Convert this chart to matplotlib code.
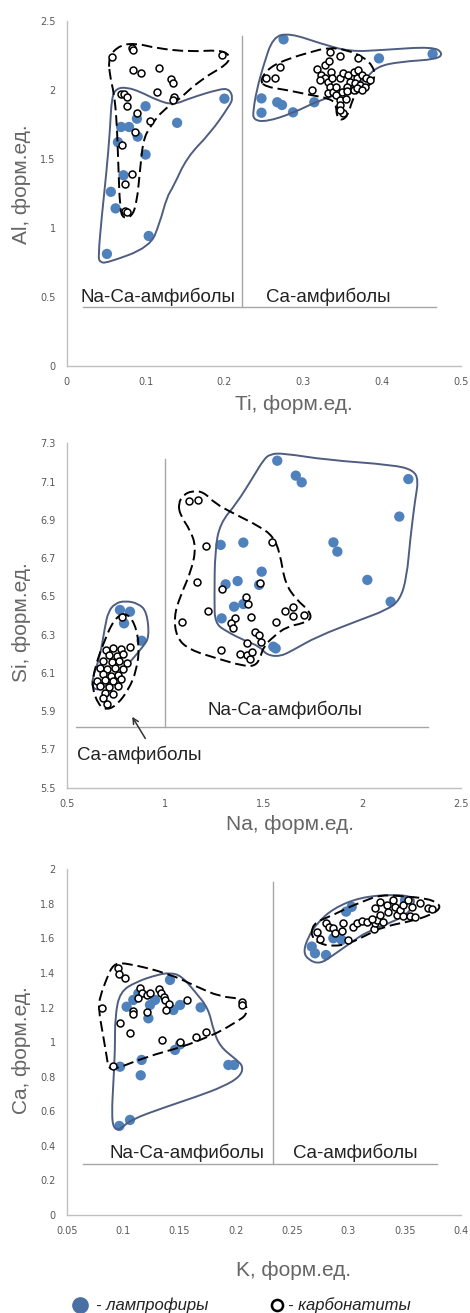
import matplotlib
matplotlib.use("Agg")
import matplotlib.pyplot as plt
from matplotlib.path import Path
from matplotlib.patches import PathPatch
from matplotlib.lines import Line2D

# ---------------- Panel 1: Ti vs Al ----------------
p1_lamp_ti = [0.100, 0.069, 0.079, 0.089, 0.090, 0.065, 0.100, 0.140, 0.072, 0.056, 0.062, 0.104, 0.051, 0.200,
              0.275, 0.396, 0.464, 0.247, 0.247, 0.267, 0.273, 0.287, 0.314, 0.357]
p1_lamp_al = [1.88, 1.73, 1.73, 1.79, 1.66, 1.62, 1.53, 1.76, 1.38, 1.26, 1.14, 0.94, 0.81, 1.935,
              2.365, 2.227, 2.259, 1.937, 1.833, 1.909, 1.889, 1.836, 1.909, 1.998]
p1_carb_ti = [0.058, 0.083, 0.084, 0.084, 0.094, 0.117, 0.132, 0.135, 0.115, 0.136, 0.135, 0.197,
              0.069, 0.073, 0.076, 0.076, 0.089, 0.105, 0.087, 0.070, 0.083, 0.074, 0.074, 0.077,
              0.318, 0.328, 0.332, 0.334, 0.347, 0.370, 0.335, 0.323, 0.328, 0.321, 0.331, 0.337,
              0.334, 0.331, 0.338, 0.342, 0.347, 0.351, 0.357, 0.364, 0.370, 0.368, 0.374, 0.380,
              0.359, 0.366, 0.372, 0.378, 0.385, 0.355, 0.349, 0.342, 0.347, 0.354, 0.356, 0.364,
              0.368, 0.374, 0.311, 0.347, 0.351, 0.346, 0.271, 0.253, 0.264]
p1_carb_al = [2.235, 2.30, 2.285, 2.14, 2.12, 2.16, 2.08, 2.05, 1.98, 1.95, 1.925, 2.25,
              1.97, 1.97, 1.95, 1.88, 1.83, 1.77, 1.69, 1.60, 1.39, 1.32, 1.12, 1.115,
              2.150, 2.179, 2.208, 2.276, 2.247, 2.228, 2.131, 2.107, 2.083, 2.071, 2.054, 2.083,
              2.022, 1.974, 1.986, 2.022, 2.083, 2.119, 2.107, 2.131, 2.143, 2.083, 2.107, 2.083,
              2.059, 2.047, 2.035, 2.022, 2.071, 2.022, 1.986, 1.962, 1.926, 1.933, 1.991, 1.998,
              2.010, 1.998, 1.998, 1.890, 1.829, 1.853, 2.163, 2.083, 2.083]

p1_lamp_left_ti = [0.040, 0.0444, 0.0507, 0.0549, 0.0571, 0.0634, 0.076, 0.093, 0.114, 0.135, 0.156, 0.194,
                   0.206, 0.211, 0.206, 0.182, 0.1527, 0.135, 0.127, 0.118, 0.1056, 0.051, 0.042]
p1_lamp_left_al = [0.79, 1.08, 1.418, 1.708, 1.949, 2.010, 2.017, 1.986, 1.925, 1.889, 1.938, 2.005,
                   2.005, 1.94, 1.88, 1.685, 1.512, 1.295, 1.222, 1.034, 0.860, 0.744, 0.75]
p1_carb_left_ti = [0.0528, 0.0676, 0.0888, 0.114, 0.156, 0.194, 0.207, 0.2045, 0.169, 0.1395, 0.122, 0.1056,
                   0.097, 0.093, 0.0888, 0.0824, 0.0718, 0.0676, 0.0654, 0.0634, 0.060, 0.0549]
p1_carb_left_al = [2.239, 2.324, 2.336, 2.300, 2.275, 2.288, 2.252, 2.186, 2.071, 1.913, 1.853, 1.732,
                   1.635, 1.418, 1.177, 1.080, 1.068, 1.128, 1.467, 1.780, 1.974, 2.094]
p1_lamp_right_ti = [0.2616, 0.2832, 0.3212, 0.3593, 0.4011, 0.4645, 0.4772, 0.4696, 0.4226, 0.393, 0.378,
                    0.355, 0.321, 0.287, 0.2536, 0.2366, 0.2366, 0.241, 0.249]
p1_lamp_right_al = [2.384, 2.409, 2.336, 2.275, 2.288, 2.312, 2.264, 2.220, 2.203, 2.167, 2.07,
                    1.986, 1.925, 1.831, 1.768, 1.780, 1.853, 1.998, 2.167]
p1_carb_right_ti = [0.245, 0.258, 0.283, 0.3085, 0.332, 0.355, 0.376, 0.389, 0.391, 0.3825, 0.368, 0.3614,
                    0.357, 0.3487, 0.3424, 0.3415, 0.332, 0.3085, 0.279, 0.2515]
p1_carb_right_al = [2.07, 2.167, 2.228, 2.271, 2.307, 2.288, 2.239, 2.167, 2.083, 2.022, 1.986, 1.913,
                    1.817, 1.775, 1.804, 1.901, 1.938, 1.962, 1.998, 2.022]

# ---------------- Panel 2: Na vs Si ----------------
p2_lamp_na = [1.568, 1.662, 1.692, 2.233, 2.187, 1.853, 1.873, 2.025, 2.143, 1.281, 1.396, 1.489, 1.367,
              1.306, 1.476, 1.349, 1.396, 1.286, 1.548, 1.560,
              0.770, 0.821, 0.791, 0.880]
p2_lamp_si = [7.209, 7.131, 7.096, 7.113, 6.917, 6.782, 6.734, 6.586, 6.472, 6.769, 6.781, 6.629, 6.580,
              6.563, 6.560, 6.446, 6.460, 6.385, 6.237, 6.228,
              6.429, 6.420, 6.359, 6.268]
p2_carb_na = [1.122, 1.168, 1.205, 1.540, 1.159, 1.481, 1.288, 1.410, 1.422, 1.218, 1.354, 1.433, 1.333,
              1.342, 1.083, 1.607, 1.650, 1.650, 1.706, 1.560, 1.455, 1.477, 1.486, 1.416, 1.281, 1.379,
              1.416, 1.442, 1.430,
              0.779, 0.699, 0.733, 0.776, 0.821, 0.716, 0.754, 0.787, 0.686, 0.728, 0.767, 0.808,
              0.669, 0.706, 0.745, 0.787, 0.686, 0.725, 0.762, 0.652, 0.694, 0.737, 0.774, 0.669,
              0.716, 0.762, 0.694, 0.733, 0.686, 0.706]
p2_carb_si = [7.000, 7.004, 6.763, 6.782, 6.577, 6.572, 6.537, 6.495, 6.460, 6.425, 6.385, 6.391, 6.359,
              6.333, 6.368, 6.424, 6.446, 6.399, 6.403, 6.364, 6.316, 6.298, 6.263, 6.258, 6.220, 6.199,
              6.194, 6.208, 6.171,
              6.390, 6.222, 6.232, 6.225, 6.236, 6.196, 6.190, 6.198, 6.162, 6.155, 6.163, 6.150,
              6.128, 6.120, 6.126, 6.118, 6.092, 6.085, 6.090, 6.060, 6.065, 6.058, 6.066, 6.030,
              6.025, 6.032, 5.995, 5.990, 5.967, 5.937]

p2_lamp_up_na = [1.498, 1.531, 1.599, 1.819, 2.157, 2.258, 2.284, 2.267, 2.242, 2.225, 2.191, 2.123, 1.988,
                 1.768, 1.650, 1.582, 1.514, 1.481, 1.396, 1.312, 1.252, 1.249, 1.252, 1.278, 1.362, 1.447]
p2_lamp_up_si = [7.213, 7.244, 7.248, 7.213, 7.187, 7.160, 7.108, 7.004, 6.795, 6.603, 6.481, 6.429, 6.377,
                 6.289, 6.220, 6.185, 6.194, 6.237, 6.272, 6.316, 6.359, 6.481, 6.742, 6.882, 6.986, 7.126]
p2_carb_up_na = [1.066, 1.092, 1.134, 1.193, 1.252, 1.345, 1.481, 1.548, 1.582, 1.607, 1.667, 1.726, 1.743,
                 1.700, 1.616, 1.548, 1.498, 1.481, 1.455, 1.396, 1.261, 1.125, 1.058, 1.044, 1.075, 1.134,
                 1.156, 1.126, 1.075]
p2_carb_up_si = [6.986, 7.030, 7.051, 7.047, 6.986, 6.934, 6.864, 6.812, 6.725, 6.568, 6.481, 6.429, 6.385,
                 6.359, 6.342, 6.289, 6.237, 6.176, 6.136, 6.136, 6.176, 6.220, 6.281, 6.394, 6.499, 6.638,
                 6.760, 6.847, 6.925]
p2_lamp_low_na = [0.711, 0.745, 0.796, 0.864, 0.906, 0.919, 0.889, 0.830, 0.737, 0.669, 0.632, 0.627, 0.669, 0.694]
p2_lamp_low_si = [6.420, 6.463, 6.477, 6.463, 6.420, 6.289, 6.240, 6.167, 6.063, 6.010, 6.019, 6.063, 6.185, 6.341]
p2_carb_low_na = [0.796, 0.847, 0.869, 0.855, 0.813, 0.754, 0.703, 0.661, 0.627, 0.644, 0.686, 0.737]
p2_carb_low_si = [6.420, 6.359, 6.237, 6.115, 6.010, 5.932, 5.906, 5.932, 6.028, 6.132, 6.254, 6.376]

# ---------------- Panel 3: K vs Ca ----------------
p3_lamp_k = [0.1417, 0.1032, 0.1091, 0.1136, 0.1239, 0.1284, 0.1225, 0.1447, 0.1506, 0.1689, 0.1461, 0.1506,
             0.0973, 0.1165, 0.1157, 0.1935, 0.1985, 0.1062, 0.0967,
             0.298, 0.303, 0.2675, 0.2704, 0.2802, 0.2867, 0.2941, 0.3503]
p3_lamp_ca = [1.360, 1.205, 1.244, 1.282, 1.215, 1.244, 1.138, 1.186, 1.215, 1.201, 0.955, 0.987,
              0.858, 0.897, 0.808, 0.868, 0.868, 0.550, 0.515,
              1.755, 1.783, 1.553, 1.514, 1.504, 1.601, 1.591, 1.822]
p3_carb_k = [0.0958, 0.0967, 0.1017, 0.081, 0.1151, 0.1165, 0.121, 0.124, 0.1136, 0.132, 0.1337, 0.136,
             0.1372, 0.141, 0.138, 0.1565, 0.1091, 0.1091, 0.121, 0.0973, 0.1062, 0.1343, 0.1506, 0.1648,
             0.1737, 0.2053, 0.2056, 0.0914,
             0.272, 0.275, 0.2802, 0.2825, 0.2867, 0.2882, 0.2956, 0.2941, 0.300, 0.3045, 0.308, 0.3119,
             0.3163, 0.3228, 0.3237, 0.3252, 0.3281, 0.3237, 0.3281, 0.334, 0.3355, 0.3394, 0.3414,
             0.3429, 0.3459, 0.3488, 0.3533, 0.3562, 0.3488, 0.3547, 0.3592, 0.3636, 0.371, 0.374,
             0.331, 0.3208]
p3_carb_ca = [1.427, 1.394, 1.369, 1.196, 1.311, 1.286, 1.273, 1.282, 1.254, 1.306, 1.286, 1.263,
              1.244, 1.219, 1.186, 1.244, 1.182, 1.163, 1.176, 1.113, 1.051, 1.013, 1.003, 1.032,
              1.059, 1.234, 1.213, 0.862,
              1.639, 1.595, 1.691, 1.665, 1.659, 1.630, 1.691, 1.645, 1.591, 1.664, 1.691, 1.703,
              1.697, 1.653, 1.688, 1.707, 1.736, 1.774, 1.813, 1.793, 1.755, 1.822, 1.784,
              1.736, 1.765, 1.793, 1.822, 1.784, 1.730, 1.730, 1.726, 1.807, 1.774, 1.768,
              1.697, 1.712]

p3_lamp_left_k = [0.0973, 0.1121, 0.1299, 0.1417, 0.152, 0.1639, 0.1757, 0.1802, 0.1861, 0.2009, 0.2068,
                  0.2038, 0.189, 0.1654, 0.1387, 0.1062, 0.0973, 0.0914, 0.09, 0.0914, 0.0929, 0.0929]
p3_lamp_left_ca = [1.292, 1.350, 1.389, 1.402, 1.383, 1.292, 1.196, 1.070, 0.974, 0.897, 0.858,
                   0.800, 0.743, 0.685, 0.627, 0.550, 0.492, 0.502, 0.588, 0.762, 0.955, 1.148]
p3_carb_left_k = [0.0914, 0.1017, 0.1402, 0.1654, 0.186, 0.2038, 0.2097, 0.2097, 0.2009, 0.186, 0.1742,
                  0.1535, 0.121, 0.0914, 0.087, 0.0855, 0.0825, 0.0781, 0.0796, 0.0855]
p3_carb_left_ca = [1.452, 1.460, 1.398, 1.321, 1.263, 1.254, 1.215, 1.157, 1.119, 1.061, 1.028,
                   0.974, 0.916, 0.839, 0.854, 0.916, 1.032, 1.196, 1.263, 1.369]
p3_lamp_right_k = [0.260, 0.2645, 0.272, 0.2867, 0.3104, 0.3399, 0.3562, 0.3592, 0.3533, 0.3399, 0.3163,
                   0.3015, 0.2867, 0.2749, 0.2645]
p3_lamp_right_ca = [1.524, 1.610, 1.687, 1.774, 1.838, 1.855, 1.842, 1.813, 1.745, 1.697, 1.639,
                    1.572, 1.504, 1.452, 1.475]
p3_carb_right_k = [0.2675, 0.272, 0.2867, 0.3015, 0.3163, 0.3281, 0.3459, 0.3696, 0.3799, 0.3814, 0.3755,
                   0.3607, 0.331, 0.3163, 0.3015, 0.2867, 0.2734, 0.2675]
p3_carb_right_ca = [1.659, 1.697, 1.736, 1.784, 1.822, 1.851, 1.846, 1.832, 1.803, 1.774, 1.745,
                    1.707, 1.668, 1.620, 1.572, 1.553, 1.572, 1.610]

# Axis ticks
p1_xticks = [0, 0.1, 0.2, 0.3, 0.4, 0.5]
p1_yticks = [0, 0.5, 1, 1.5, 2, 2.5]
p2_xticks = [0.5, 1, 1.5, 2, 2.5]
p2_yticks = [5.5, 5.7, 5.9, 6.1, 6.3, 6.5, 6.7, 6.9, 7.1, 7.3]
p3_xticks = [0.05, 0.1, 0.15, 0.2, 0.25, 0.3, 0.35, 0.4]
p3_yticks = [0, 0.2, 0.4, 0.6, 0.8, 1, 1.2, 1.4, 1.6, 1.8, 2]

BLUE = "#4f81bd"
OUTLINE = "#4e5d80"
GRAY_LINE = "#a6a6a6"
LABEL_GRAY = "#666666"
TICK_GRAY = "#595959"
FONT = ["Liberation Sans", "DejaVu Sans"]
REGION_FS = 13.5


def smooth_closed(xs, ys):
    pts = list(zip(xs, ys))
    n = len(pts)
    mids = [((pts[i][0] + pts[(i + 1) % n][0]) / 2, (pts[i][1] + pts[(i + 1) % n][1]) / 2) for i in range(n)]
    verts = [mids[-1]]
    codes = [Path.MOVETO]
    for i in range(n):
        verts += [pts[i], mids[i]]
        codes += [Path.CURVE3, Path.CURVE3]
    return Path(verts, codes)


def outline(ax, xs, ys, dashed=False):
    path = smooth_closed(xs, ys)
    if dashed:
        patch = PathPatch(path, fill=False, edgecolor="black", lw=1.4, linestyle=(0, (5.5, 2.5)), zorder=4)
    else:
        patch = PathPatch(path, fill=False, edgecolor=OUTLINE, lw=1.4, zorder=4)
    ax.add_patch(patch)


def style(ax, xlim, ylim, xticks, yticks):
    ax.set_xlim(*xlim)
    ax.set_ylim(*ylim)
    ax.set_xticks(xticks)
    ax.set_yticks(yticks)
    ax.set_xticklabels([f"{t:g}" for t in xticks])
    ax.set_yticklabels([f"{t:g}" for t in yticks])
    for s in ["top", "right"]:
        ax.spines[s].set_visible(False)
    for s in ["left", "bottom"]:
        ax.spines[s].set_color("#bfbfbf")
        ax.spines[s].set_linewidth(1.0)
    ax.tick_params(length=0, labelsize=7, colors=TICK_GRAY, pad=8)
    for lab in ax.get_xticklabels() + ax.get_yticklabels():
        lab.set_family(["DejaVu Sans"])


def points(ax, lx, ly, cx, cy):
    ax.scatter(lx, ly, s=55, color=BLUE, edgecolors="none", zorder=3, clip_on=False)
    ax.scatter(cx, cy, s=25, facecolors="white", edgecolors="black", linewidths=1.1, zorder=5, clip_on=False)


fig = plt.figure(figsize=(4.7, 13.13), dpi=100)
W, H = 470.0, 1313.0


def axes_px(left, right, top, bottom):
    return fig.add_axes([left / W, 1 - bottom / H, (right - left) / W, (bottom - top) / H])


# Panel 1
ax1 = axes_px(66.7, 461, 20.7, 365.7)
style(ax1, (0, 0.5), (0, 2.5), p1_xticks, p1_yticks)
ax1.plot([0.2227, 0.2227], [0.423, 2.39], color=GRAY_LINE, lw=1)
ax1.plot([0.0203, 0.468], [0.423, 0.423], color=GRAY_LINE, lw=1)
points(ax1, p1_lamp_ti, p1_lamp_al, p1_carb_ti, p1_carb_al)
outline(ax1, p1_lamp_left_ti, p1_lamp_left_al)
outline(ax1, p1_lamp_right_ti, p1_lamp_right_al)
outline(ax1, p1_carb_left_ti, p1_carb_left_al, dashed=True)
outline(ax1, p1_carb_right_ti, p1_carb_right_al, dashed=True)
ax1.text(0.116, 0.50, "Na-Ca-амфиболы", ha="center", va="center", fontsize=REGION_FS, family=FONT, color="#222222")
ax1.text(0.332, 0.50, "Ca-амфиболы", ha="center", va="center", fontsize=REGION_FS, family=FONT, color="#222222")
fig.text(293.5 / W, 1 - 405 / H, "Ti, форм.ед.", ha="center", va="center", fontsize=15, family=FONT, color=LABEL_GRAY)
fig.text(22 / W, 1 - 184 / H, "Al, форм.ед.", ha="center", va="center", rotation=90, fontsize=15, family=FONT, color=LABEL_GRAY)

# Panel 2
ax2 = axes_px(66.7, 461, 443.3, 787.7)
style(ax2, (0.5, 2.5), (5.5, 7.3), p2_xticks, p2_yticks)
ax2.plot([0.999, 0.999], [5.819, 7.22], color=GRAY_LINE, lw=1)
ax2.plot([0.547, 2.331], [5.819, 5.819], color=GRAY_LINE, lw=1)
points(ax2, p2_lamp_na, p2_lamp_si, p2_carb_na, p2_carb_si)
outline(ax2, p2_lamp_up_na, p2_lamp_up_si)
outline(ax2, p2_lamp_low_na, p2_lamp_low_si)
outline(ax2, p2_carb_up_na, p2_carb_up_si, dashed=True)
outline(ax2, p2_carb_low_na, p2_carb_low_si, dashed=True)
ax2.text(1.607, 5.906, "Na-Ca-амфиболы", ha="center", va="center", fontsize=REGION_FS, family=FONT, color="#222222")
ax2.text(0.869, 5.671, "Ca-амфиболы", ha="center", va="center", fontsize=REGION_FS, family=FONT, color="#222222")
ax2.annotate("", xy=(0.825, 5.883), xytext=(0.906, 5.745),
             arrowprops=dict(arrowstyle="->", color="#333333", lw=1.1))
fig.text(290 / W, 1 - 825 / H, "Na, форм.ед.", ha="center", va="center", fontsize=15, family=FONT, color=LABEL_GRAY)
fig.text(22 / W, 1 - 622 / H, "Si, форм.ед.", ha="center", va="center", rotation=90, fontsize=15, family=FONT, color=LABEL_GRAY)

# Panel 3
ax3 = axes_px(66.7, 461, 869.3, 1215)
style(ax3, (0.05, 0.4), (0, 2), p3_xticks, p3_yticks)
ax3.plot([0.2334, 0.2334], [0.295, 1.924], color=GRAY_LINE, lw=1)
ax3.plot([0.0648, 0.3784], [0.295, 0.295], color=GRAY_LINE, lw=1)
points(ax3, p3_lamp_k, p3_lamp_ca, p3_carb_k, p3_carb_ca)
outline(ax3, p3_lamp_left_k, p3_lamp_left_ca)
outline(ax3, p3_lamp_right_k, p3_lamp_right_ca)
outline(ax3, p3_carb_left_k, p3_carb_left_ca, dashed=True)
outline(ax3, p3_carb_right_k, p3_carb_right_ca, dashed=True)
ax3.text(0.1565, 0.358, "Na-Ca-амфиболы", ha="center", va="center", fontsize=REGION_FS, family=FONT, color="#222222")
ax3.text(0.306, 0.358, "Ca-амфиболы", ha="center", va="center", fontsize=REGION_FS, family=FONT, color="#222222")
fig.text(294 / W, 1 - 1270 / H, "K, форм.ед.", ha="center", va="center", fontsize=15, family=FONT, color=LABEL_GRAY)
fig.text(22 / W, 1 - 1050 / H, "Ca, форм.ед.", ha="center", va="center", rotation=90, fontsize=15, family=FONT, color=LABEL_GRAY)

# Legend
fig.add_artist(Line2D([80 / W], [1 - 1305 / H], marker="o", markersize=11, color="#4a6fa5", linestyle="none",
                      transform=fig.transFigure))
fig.text(96 / W, 1 - 1305 / H, "- лампрофиры", ha="left", va="center", fontsize=12, style="italic",
         family=FONT, color="#222222")
fig.add_artist(Line2D([277 / W], [1 - 1305 / H], marker="o", markersize=8, markerfacecolor="white",
                      markeredgecolor="black", markeredgewidth=1.8, linestyle="none", transform=fig.transFigure))
fig.text(288 / W, 1 - 1305 / H, "- карбонатиты", ha="left", va="center", fontsize=12, style="italic",
         family=FONT, color="#222222")

fig.savefig("out.png", dpi=100)
